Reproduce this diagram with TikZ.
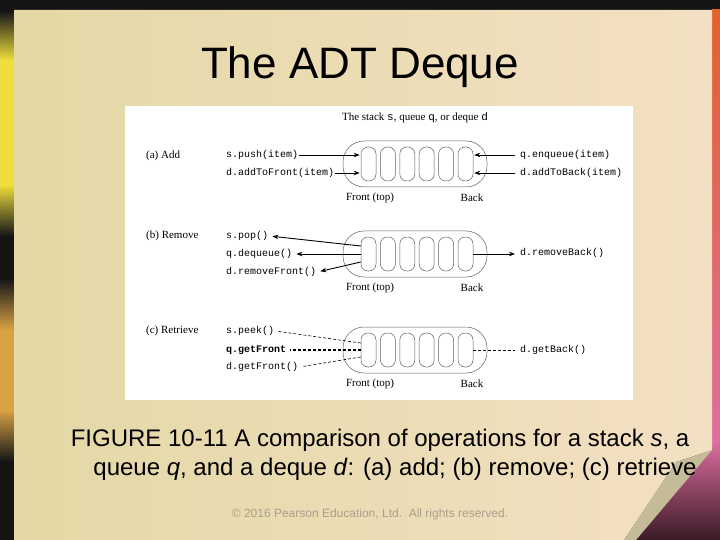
\documentclass[tikz,border=0pt]{standalone}
\usepackage{fontspec}
\setmainfont{Liberation Sans}
\setmonofont{Liberation Mono}
\newfontfamily\figserif{Liberation Serif}
\usetikzlibrary{arrows.meta, positioning}

\definecolor{glowyellow}{HTML}{EEDD3A}
\definecolor{glowgold}{HTML}{D9A243}
\definecolor{glowred}{HTML}{E4602C}
\definecolor{curlpink}{HTML}{DE6FA0}
\definecolor{curldark}{HTML}{3A1A26}
\definecolor{paneL}{HTML}{E4D8A6}
\definecolor{paneM}{HTML}{E2D2A2}
\definecolor{paneR}{HTML}{F3E0C3}
\definecolor{flapgray}{HTML}{C6BB98}
\definecolor{copygray}{HTML}{A8A08C}

\begin{document}
\begin{tikzpicture}[x=1pt, y=-1pt,
  cell/.style={draw=gray!75!black, line width=0.5pt, rounded corners=7pt,
    minimum width=15pt, minimum height=34pt, inner sep=0pt},
  holder/.style={draw=gray!75!black, line width=0.5pt, rounded corners=21pt,
    minimum width=144pt, minimum height=46pt, inner sep=0pt},
  op/.style={font=\ttfamily\fontsize{10}{12}\selectfont, anchor=west, inner sep=1pt},
  lab/.style={font=\figserif\fontsize{11}{13}\selectfont, inner sep=1pt},
  opline/.style={line width=0.9pt},
  optip/.style={-{Stealth[length=6pt, width=4.5pt]}},
  peekline/.style={densely dashed, line width=0.6pt}
]
\useasboundingbox (0,0) rectangle (720,540);
% Slide frame: dark edges with coloured glow
\fill[black!92] (0,0) rectangle (720,540);
\shade[top color=black!90, bottom color=glowyellow] (0,12) rectangle (14,60);
\fill[glowyellow] (0,60) rectangle (14,185);
\shade[top color=glowyellow, bottom color=black!90] (0,185) rectangle (14,235);
\shade[top color=black!90, bottom color=glowgold] (0,280) rectangle (14,330);
\fill[glowgold] (0,330) rectangle (14,410);
\shade[top color=glowgold, bottom color=black!90] (0,410) rectangle (14,460);
\shade[top color=glowred, bottom color=curlpink] (712,10) rectangle (720,450);
\shade[top color=curlpink, bottom color=curldark] (720,440) -- (720,540) -- (600,540) -- cycle;
% Paper panel with curled corner
\shade[left color=paneL, middle color=paneM, right color=paneR]
  (14,10) -- (712,10) -- (712,450) -- (676,462) -- (624,540) -- (14,540) -- cycle;
\fill[flapgray] (712,450) -- (676,462) -- (624,540) -- (636,540) -- cycle;
% Slide title
\node[font=\fontsize{44}{52}\selectfont] (title) at (360,67) {The ADT Deque};
% Figure box
\fill[white] (125,106) rectangle (633,400);
\node[lab] (figtitle) at (415,118) {The stack \texttt{s}, queue \texttt{q}, or deque \texttt{d}};
% Three copies of the deque: holder and six cells
\foreach \r/\y in {a/164, b/254, c/350} {
  \node[holder] (\r) at (415,\y) {};
  \foreach \k in {1,...,6}
    \node[cell] (\r\k) at ({368.5+19.4*(\k-1)},\y) {};
  \node[lab] (\r front) at (370,\y+34) {Front (top)};
  \node[lab] (\r back) at (472,\y+34) {Back};
}
% (a) add
\node[lab, anchor=west] (addlab) at (145,156) {(a) Add};
\node[op] (push) at (225,155) {s.push(item)};
\node[op] (addf) at (225,173) {d.addToFront(item)};
\node[op] (enq) at (519,155) {q.enqueue(item)};
\node[op] (addb) at (519,173) {d.addToBack(item)};
\draw[opline, optip, shorten >=1pt] (push.east) -- (push -| a1.west);
\draw[opline, optip, shorten >=1pt] (addf.east) -- (addf -| a1.west);
\draw[opline, optip, shorten <=4pt, shorten >=1pt] (enq.west) -- (enq -| a6.east);
\draw[opline, optip, shorten <=4pt, shorten >=1pt] (addb.west) -- (addb -| a6.east);
% (b) remove
\node[lab, anchor=west] (remlab) at (145,236) {(b) Remove};
\node[op] (pop) at (225,236) {s.pop()};
\node[op] (deq) at (225,254) {q.dequeue()};
\node[op] (remf) at (225,272) {d.removeFront()};
\node[op] (remb) at (519,253) {d.removeBack()};
\draw[opline, optip, shorten >=3pt] ([yshift=8pt]b1.west) -- (pop.east);
\draw[opline, optip, shorten >=3pt] (b1.west) -- (deq.east);
\draw[opline, optip, shorten >=3pt] ([yshift=-8pt]b1.west) -- (remf.east);
\draw[opline, optip, shorten >=4pt] (b6.east) -- (remb.west |- b6.east);
% (c) retrieve
\node[lab, anchor=west] (retlab) at (145,331) {(c) Retrieve};
\node[op] (peek) at (225,331) {s.peek()};
\node[op, font=\ttfamily\bfseries\fontsize{10}{12}\selectfont] (getf) at (225,350) {q.getFront};
\node[op] (dgetf) at (225,367) {d.getFront()};
\node[op] (getb) at (519,350) {d.getBack()};
\draw[peekline, shorten >=3pt] ([yshift=7pt]c1.west) -- (peek.east);
\draw[peekline, line width=1.1pt, shorten >=3pt] (c1.west) -- (getf.east);
\draw[peekline, shorten >=3pt] ([yshift=-7pt]c1.west) -- (dgetf.east);
\draw[peekline, shorten >=4pt] (c6.east) -- (getb.west);
% Caption and copyright
\node[font=\fontsize{24}{28}\selectfont] (cap1) at (380,440)
  {FIGURE 10-11 A comparison of operations for a stack \textit{s}, a};
\node[font=\fontsize{24}{28}\selectfont] (cap2) at (395,469)
  {queue \textit{q}, and a deque \textit{d}: (a) add; (b) remove; (c) retrieve};
\node[font=\fontsize{12}{14}\selectfont, text=copygray] (copy) at (370,514)
  {\textcopyright{} 2016 Pearson Education, Ltd.\ \ All rights reserved.};
\end{tikzpicture}
\end{document}
